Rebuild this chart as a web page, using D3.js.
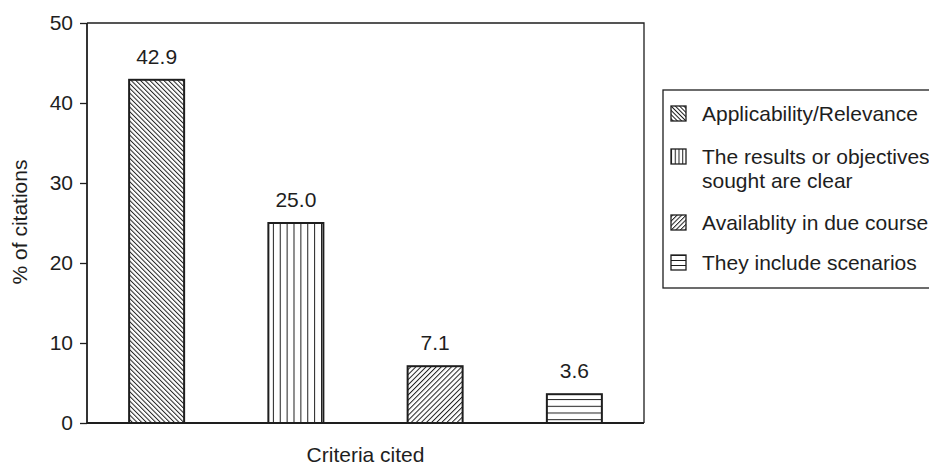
<!DOCTYPE html>
<html lang="en">
<head>
<meta charset="UTF-8">
<title>Criteria cited</title>
<script src="https://d3js.org/d3.v7.min.js"></script>
<style>
  body { margin: 0; background: #fff; }
  text { font-family: "Liberation Sans", Arial, sans-serif; fill: #1e1e1e; }
</style>
</head>
<body>
<script>
// data
var categories = ["Applicability/Relevance", "The results or objectives sought are clear",
                  "Availablity in due course", "They include scenarios"];
var values = [42.9, 25.0, 7.1, 3.6];
var valueLabels = ["42.9", "25.0", "7.1", "3.6"];
var yTicks = [0, 10, 20, 30, 40, 50];
var legendLines = [["Applicability/Relevance"],
                   ["The results or objectives", "sought are clear"],
                   ["Availablity in due course"],
                   ["They include scenarios"]];
var hatch = ["back", "vert", "fwd", "horiz"];

var W = 929, H = 465;
var margin = {top: 23, left: 87, right: 285, bottom: 42};
var width = W - margin.left - margin.right,
    height = H - margin.top - margin.bottom;
var ink = "#1e1e1e";
var fs = "21px";

var svg = d3.select("body").append("svg")
    .attr("width", W).attr("height", H);
var defs = svg.append("defs");

// hatch pattern builder, anchored at (ox, oy) so lines line up with the box edges
function makePattern(id, type, step, ox, oy) {
    var p = defs.append("pattern")
        .attr("id", id)
        .attr("patternUnits", "userSpaceOnUse");
    if (type == "vert") {
        p.attr("x", ox).attr("y", 0).attr("width", step).attr("height", 10);
        p.append("line").attr("x1", 0.5).attr("x2", 0.5).attr("y1", 0).attr("y2", 10)
            .attr("stroke", ink).attr("stroke-width", 1);
    } else if (type == "horiz") {
        p.attr("x", 0).attr("y", oy).attr("width", 10).attr("height", step);
        p.append("line").attr("y1", 0.5).attr("y2", 0.5).attr("x1", 0).attr("x2", 10)
            .attr("stroke", ink).attr("stroke-width", 1);
    } else {
        p.attr("width", step).attr("height", 10)
            .attr("patternTransform", "rotate(" + (type == "back" ? -45 : 45) + ")");
        p.append("line").attr("x1", 0.5).attr("x2", 0.5).attr("y1", 0).attr("y2", 10)
            .attr("stroke", ink).attr("stroke-width", 1);
    }
}

var g = svg.append("g")
    .attr("transform", "translate(" + margin.left + "," + margin.top + ")");

var x = d3.scaleBand().domain(categories).range([0, width])
    .paddingInner(0.605).paddingOuter(0.3025);
var y = d3.scaleLinear().domain([0, 50]).range([height, 0]);

// frame top and right
g.append("path")
    .attr("d", "M0,0H" + width + "V" + height)
    .attr("fill", "none").attr("stroke", ink).attr("stroke-width", 1.3);

// bars
var barSteps = [3.3, 55 / 8, 3.6, 6.7];
categories.forEach(function (c, i) {
    var bx = margin.left + x(c);
    makePattern("bar" + i, hatch[i], barSteps[i], bx, margin.top + height);
});

g.selectAll("rect.bar").data(categories).enter()
    .append("rect").attr("class", "bar")
    .attr("x", function (d) { return x(d); })
    .attr("y", function (d, i) { return y(values[i]); })
    .attr("width", x.bandwidth())
    .attr("height", function (d, i) { return height - y(values[i]); })
    .attr("fill", function (d, i) { return "url(#bar" + i + ")"; })
    .attr("stroke", ink).attr("stroke-width", 2);

g.selectAll("text.val").data(categories).enter()
    .append("text").attr("class", "val")
    .attr("x", function (d) { return x(d) + x.bandwidth() / 2; })
    .attr("y", function (d, i) { return y(values[i]) - 16; })
    .attr("text-anchor", "middle")
    .style("font-size", fs)
    .text(function (d, i) { return valueLabels[i]; });

// y axis
var yAxis = g.append("g")
    .call(d3.axisLeft(y).tickValues(yTicks).tickSize(7).tickPadding(7));
yAxis.select(".domain").attr("stroke", ink).attr("stroke-width", 1.8)
    .attr("d", "M0," + height + "V0");
yAxis.selectAll(".tick line").attr("stroke", ink).attr("stroke-width", 1.3);
yAxis.selectAll(".tick text").style("font-size", fs)
    .style("font-family", "'Liberation Sans', Arial, sans-serif").attr("fill", ink);

// x axis (no ticks)
var xAxis = g.append("g")
    .attr("transform", "translate(0," + height + ")")
    .call(d3.axisBottom(x).tickSize(0).tickFormat(""));
xAxis.select(".domain").attr("stroke", ink).attr("stroke-width", 1.8)
    .attr("d", "M0,0H" + width);

// axis titles
svg.append("text")
    .attr("x", margin.left + width / 2).attr("y", 462)
    .attr("text-anchor", "middle")
    .style("font-size", fs)
    .text("Criteria cited");

svg.append("text")
    .attr("transform", "translate(27," + (margin.top + height / 2 - 1) + ") rotate(-90)")
    .attr("text-anchor", "middle")
    .style("font-size", fs)
    .text("% of citations");

// legend
var leg = svg.append("g");
leg.append("rect")
    .attr("x", 663).attr("y", 90).attr("width", 300).attr("height", 198)
    .attr("fill", "none").attr("stroke", ink).attr("stroke-width", 1.3);

var rowBase = [121, 164, 230, 270];
var swSteps = [3, 15 / 4, 3.2, 15 / 3];
legendLines.forEach(function (lines, i) {
    var sy = rowBase[i] - 15;
    makePattern("leg" + i, hatch[i], swSteps[i], 671, sy + 15);
    leg.append("rect")
        .attr("x", 671).attr("y", sy).attr("width", 15).attr("height", 15)
        .attr("fill", "url(#leg" + i + ")")
        .attr("stroke", ink).attr("stroke-width", 1.3);
    lines.forEach(function (t, j) {
        leg.append("text")
            .attr("x", 702).attr("y", rowBase[i] + j * 24)
            .style("font-size", fs)
            .text(t);
    });
});
</script>
</body>
</html>
